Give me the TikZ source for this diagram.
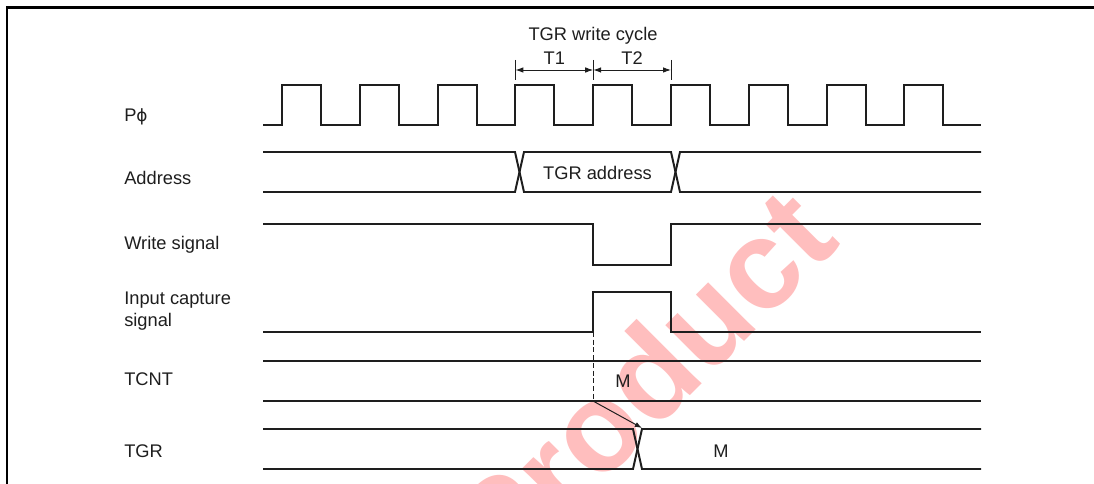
\documentclass[tikz,border=0pt]{standalone}
\usepackage{fontspec}
\setmainfont{Liberation Sans}
\newfontfamily\phifont{DejaVu Sans}
\usetikzlibrary{positioning,arrows.meta}
\definecolor{ink}{RGB}{30,30,30}
\definecolor{wmark}{RGB}{255,190,190}
\tikzset{
  sig/.style={draw=ink, line width=1.4pt, line join=miter},
  frame/.style={draw=black, line width=1.7pt},
  ext/.style={draw=ink, line width=0.7pt},
  dim/.style={{Latex[length=2mm,width=1.4mm]}-{Latex[length=2mm,width=1.4mm]}, draw=ink, line width=0.7pt},
  capt/.style={-{Latex[length=1.8mm,width=1.3mm]}, draw=ink, line width=0.7pt},
  dashline/.style={draw=ink, line width=0.7pt, dash pattern=on 3.5pt off 2pt},
  lbl/.style={font=\fontsize{13}{15.3}\selectfont, text=ink, inner sep=0pt, anchor=base},
  signame/.style={lbl, anchor=base west, align=left},
  wmtext/.style={font=\fontsize{90}{92}\selectfont\bfseries, text=wmark, rotate=45, anchor=base, inner sep=0pt}
}

\begin{document}
\begin{tikzpicture}[x=0.025cm, y=-0.025cm]
  \useasboundingbox (0,0) rectangle (1094,484);
  \node[wmtext] (wm) at (673,413) {Product};
  \draw[frame] (1094,7.5) -- (7,7.5) -- (7,484);

  % signal names
  \node[signame] (nclk) at (124,122) {P{\phifont\fontsize{12}{14}\selectfont ϕ}};
  \node[signame] (naddr) at (124,185) {Address};
  \node[signame] (nwr) at (124,250) {Write signal};
  \node[signame] (nic) at (124,326.5) {Input capture\\signal};
  \node[signame] (ncnt) at (124,386) {TCNT};
  \node[signame] (ntgr) at (124,457.5) {TGR};

  % write cycle
  \coordinate (c0) at (515.4,60);
  \coordinate (c1) at (593.2,60);
  \coordinate (c2) at (671,60);
  \coordinate (a0) at (515.4,70);
  \coordinate (a1) at (593.2,70);
  \coordinate (a2) at (671,70);
  \foreach \c in {c0,c1,c2}
    \draw[ext] (\c) -- ++(0,20);
  \draw[dim] (a0) -- (a1);
  \draw[dim] (a1) -- (a2);
  \node[lbl] (cyc) at (593,41) {TGR write cycle};
  \node[lbl] (lt1) at (554.3,65) {T1};
  \node[lbl] (lt2) at (632.1,65) {T2};

  % clock
  \draw[sig] (263,125) \foreach \k in {0,...,8} { -- ({282+77.8*\k},125) -- ++(0,-40) -- ++(39,0) -- ++(0,40) } -- (981,125);

  % address bus
  \draw[sig] (263,152) -- (515,152) -- (524,192) -- (671,192) -- (680,152) -- (981,152);
  \draw[sig] (263,192) -- (515,192) -- (524,152) -- (671,152) -- (680,192) -- (981,192);
  \node[lbl] (addr) at (597.5,179.5) {TGR address};

  % write and capture
  \draw[sig] (263,224) -- (593,224) -- (593,265) -- (671,265) -- (671,224) -- (981,224);
  \draw[sig] (263,332) -- (593,332) -- (593,292) -- (671,292) -- (671,332) -- (981,332);
  \coordinate (icrise) at (593,332);

  % TCNT
  \draw[sig] (263,361) -- (981,361);
  \draw[sig] (263,401) -- (981,401);
  \node[lbl] (mcnt) at (623,388) {M};

  % TGR
  \draw[sig] (263,429) -- (633,429) -- (642,469) -- (981,469);
  \draw[sig] (263,469) -- (633,469) -- (642,429) -- (981,429);
  \node[lbl] (mtgr) at (721,457.5) {M};

  \coordinate (cap) at (593,401);
  \coordinate (load) at (642,428);
  \draw[dashline] (icrise) -- (cap);
  \draw[capt] (cap) -- (load);
\end{tikzpicture}
\end{document}
